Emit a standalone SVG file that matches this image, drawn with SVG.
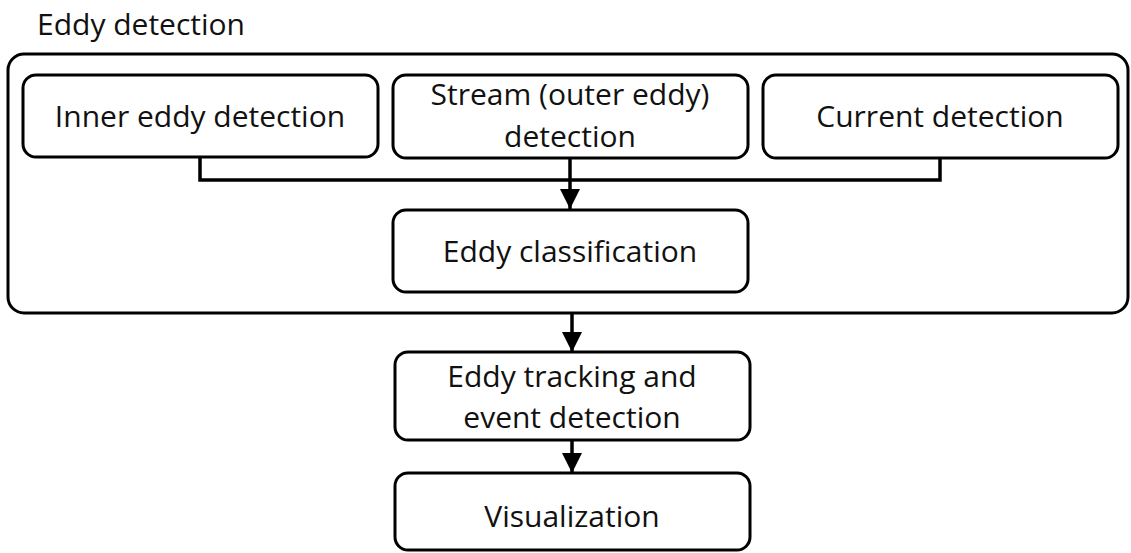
<svg xmlns="http://www.w3.org/2000/svg" width="1131" height="553" viewBox="0 0 1131 553">
<defs>
<style>
.box{fill:#fff;stroke:#000;stroke-width:3}
.t{font-family:"Open Sans",sans-serif;font-size:30px;fill:#111;text-anchor:middle}
.c{fill:none;stroke:#000;stroke-width:3.5}
</style>
<marker id="ah" markerWidth="20" markerHeight="20" viewBox="0 0 20 20" refX="20" refY="10" orient="auto" markerUnits="userSpaceOnUse">
<path d="M0,0 L20,10 L0,20 Z" fill="#000"/>
</marker>
</defs>
<rect width="1131" height="553" fill="#fff"/>
<g id="container">
<text class="t" x="37" y="35" style="text-anchor:start">Eddy detection</text>
<rect class="box" x="8" y="54" width="1120" height="259" rx="16"/>
</g>
<g id="inner"><rect class="box" x="23" y="75" width="355" height="82" rx="13"/><text class="t" x="200" y="127">Inner eddy detection</text></g>
<g id="stream"><rect class="box" x="393" y="75" width="355" height="83" rx="13"/><text class="t" x="570" y="105">Stream (outer eddy)</text><text class="t" x="570" y="147">detection</text></g>
<g id="current"><rect class="box" x="763" y="75" width="355" height="83" rx="13"/><text class="t" x="940" y="127">Current detection</text></g>
<g id="classification"><rect class="box" x="393" y="210" width="355" height="82" rx="13"/><text class="t" x="570" y="262">Eddy classification</text></g>
<g id="tracking"><rect class="box" x="395" y="352" width="355" height="88" rx="13"/><text class="t" x="572" y="387">Eddy tracking and</text><text class="t" x="572" y="428">event detection</text></g>
<g id="visualization"><rect class="box" x="395" y="473" width="355" height="77" rx="13"/><text class="t" x="572" y="527">Visualization</text></g>
<g id="connectors">
<polyline class="c" points="200,157 200,180 940,180 940,158"/>
<line class="c" x1="570" y1="158" x2="570" y2="209" marker-end="url(#ah)"/>
<line class="c" x1="572" y1="313" x2="572" y2="352" marker-end="url(#ah)"/>
<line class="c" x1="572" y1="440" x2="572" y2="473" marker-end="url(#ah)"/>
</g>
</svg>
